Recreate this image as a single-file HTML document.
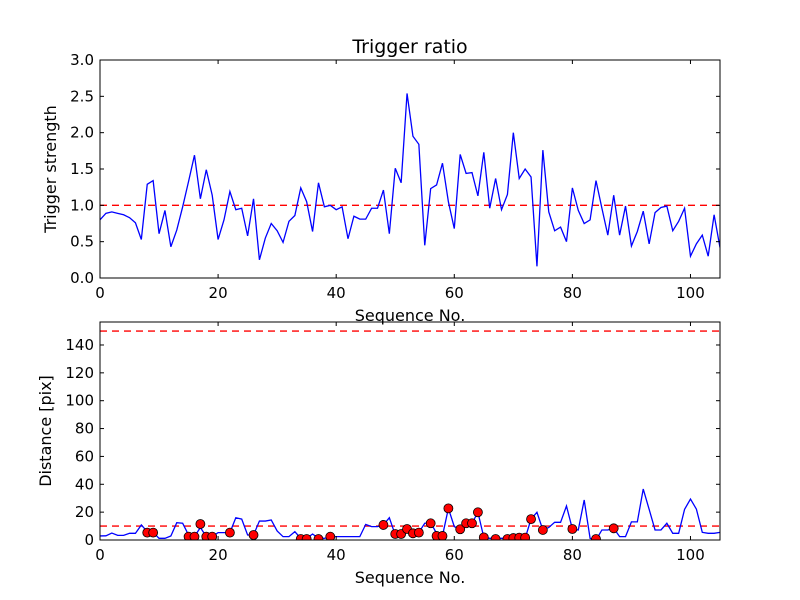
<!DOCTYPE html>
<html><head><meta charset="utf-8"><style>
body{margin:0;background:#fff;}
svg{display:block;font-family:"DejaVu Sans","Liberation Sans",sans-serif;}
</style></head><body>
<svg id="chart" width="800" height="600" viewBox="0 0 800 600" xmlns="http://www.w3.org/2000/svg">
<rect width="800" height="600" fill="#fff"/>
</svg>
<script>
const ratioValues=[0.80,0.89,0.91,0.89,0.87,0.83,0.76,0.53,1.29,1.34,0.61,0.93,0.43,0.66,0.98,1.33,1.69,1.09,1.49,1.14,0.53,0.80,1.19,0.94,0.96,0.58,1.09,0.25,0.55,0.75,0.65,0.49,0.78,0.86,1.24,1.05,0.64,1.31,0.98,1.00,0.94,0.98,0.54,0.85,0.81,0.81,0.96,0.96,1.21,0.61,1.51,1.31,2.54,1.95,1.84,0.45,1.23,1.28,1.58,1.05,0.68,1.70,1.44,1.45,1.13,1.73,0.96,1.37,0.94,1.15,2.00,1.37,1.50,1.39,0.16,1.76,0.91,0.65,0.70,0.50,1.24,0.93,0.75,0.80,1.34,0.96,0.59,1.14,0.59,0.99,0.44,0.64,0.92,0.47,0.90,0.97,0.99,0.65,0.78,0.96,0.30,0.47,0.59,0.30,0.87,0.42];
const distValues=[2.9,3,5,3.3,3.3,4.8,4.8,10.8,6,5.5,1.2,1.2,2.9,12.4,12,3.6,2.4,9,2.4,2.4,5.3,5.3,5.3,16,15,3.6,3.6,13.6,13.6,14.4,6.5,2.4,2.4,6,1.2,1.2,4.3,1.2,1.2,2.4,2.4,2.4,2.4,2.4,2.4,11.2,9.6,9.6,10.8,16,3.6,3.6,7.2,6,5.5,12,12.4,4.8,3,22.7,9.6,7.7,12,12,19.9,1.9,1.2,1.2,1.2,1.2,1.2,1.2,1.2,15,19.9,7.2,9,12.7,12.7,24.4,7.9,7.2,28.7,1.2,0,7.2,7.2,8.4,2.4,2.4,13,13,36.6,22,7.2,7.2,12,4.8,4.8,22,29.4,22.2,5.5,4.8,4.8,5.5];
const dotIndices=[8,9,15,16,17,18,19,22,26,34,35,37,39,48,50,51,52,53,54,56,57,58,59,61,62,63,64,65,67,69,70,71,72,73,75,80,84,87];
const dotValues=[5.3,5.3,2.4,2.4,11.5,2.4,2.4,5.3,3.6,0.7,0.7,0.7,2.4,10.8,4.3,4.3,7.9,4.8,5.3,12,2.9,2.9,22.7,7.7,12,12,19.9,1.9,0.7,0.7,1.4,1.7,1.7,15,7.2,7.9,0.7,8.4];
const xTicks=[0,20,40,60,80,100];
const yTicksTop=["0.0","0.5","1.0","1.5","2.0","2.5","3.0"];
const yTicksBottom=[0,20,40,60,80,100,120,140];
const ratioThreshold=1.0;
const distThresholds=[10,150];

const NS="http://www.w3.org/2000/svg";
const svg=document.getElementById('chart');
function mk(tag,attrs,parent){const e=document.createElementNS(NS,tag);for(const k in attrs)e.setAttribute(k,attrs[k]);(parent||svg).appendChild(e);return e;}
const L=100,R=720;
const xMax=105;
function sx(v){return L+v/xMax*(R-L);}

function axes(top,bot,yMax,yTicks,name,ylabel,title,ylx){
  const g=mk('g',{});
  
  
  const sy=v=>bot-v/yMax*(bot-top);
  return {g,sy,top,bot,yTicks,ylabel,title,yMax,ylx};
}
function frame(a){
  const {g,sy,top,bot}=a;
  const f=mk('rect',{x:L,y:top,width:R-L,height:bot-top,fill:'none',stroke:'#000','stroke-width':1},g);
  
  
  xTicks.forEach(t=>{
    const x=sx(t);
    mk('line',{x1:x,x2:x,y1:bot,y2:bot-4,stroke:'#000'},g);
    mk('line',{x1:x,x2:x,y1:top,y2:top+4,stroke:'#000'},g);
    const tx=mk('text',{x:x,y:bot+20,'text-anchor':'middle','font-size':15},g);
    tx.textContent=t;
    
    
  });
  a.yTicks.forEach(t=>{
    const y=sy(parseFloat(t));
    mk('line',{x1:L,x2:L+4,y1:y,y2:y,stroke:'#000'},g);
    mk('line',{x1:R,x2:R-4,y1:y,y2:y,stroke:'#000'},g);
    const tx=mk('text',{x:L-6,y:y+5,'text-anchor':'end','font-size':15},g);
    tx.textContent=t;
    
    
  });
  const xl=mk('text',{x:(L+R)/2,y:bot+43,'text-anchor':'middle','font-size':16},g);
  xl.textContent='Sequence No.';
  
  
  const cy=(top+bot)/2;
  const yl=mk('text',{x:0,y:0,'text-anchor':'middle','font-size':16,transform:`translate(${a.ylx},${cy}) rotate(-90)`},g);
  yl.textContent=a.ylabel;
  
  
  if(a.title){
    const tt=mk('text',{x:(L+R)/2,y:top-7,'text-anchor':'middle','font-size':19},g);
    tt.textContent=a.title;
    
    
  }
}
function clip(id,a){
  const d=mk('defs',{});const c=mk('clipPath',{id:id},d);
  mk('rect',{x:L,y:a.top,width:R-L,height:a.bot-a.top},c);
}

const A=axes(60,278,3,yTicksTop,'trigger-ratio-axes','Trigger strength','Trigger ratio',56);
clip('c1',A);
const ht=mk('line',{x1:L,x2:R,y1:A.sy(ratioThreshold),y2:A.sy(ratioThreshold),stroke:'#ff0000','stroke-width':1.3,'stroke-dasharray':'7,5'},A.g);


const p1=mk('polyline',{points:ratioValues.map((v,i)=>sx(i)+','+A.sy(v)).join(' '),fill:'none',stroke:'#00f','stroke-width':1.3,'clip-path':'url(#c1)'},A.g);


frame(A);

const B=axes(322,540,156.5,yTicksBottom.map(String),'distance-axes','Distance [pix]',null,51);
clip('c2',B);
distThresholds.forEach(t=>{
  const l=mk('line',{x1:L,x2:R,y1:B.sy(t),y2:B.sy(t),stroke:'#ff0000','stroke-width':1.3,'stroke-dasharray':'7,5'},B.g);
  
  
});
const p2=mk('polyline',{points:distValues.map((v,i)=>sx(i)+','+B.sy(v)).join(' '),fill:'none',stroke:'#00f','stroke-width':1.3,'clip-path':'url(#c2)'},B.g);


dotIndices.forEach((ix,k)=>{
  const c=mk('circle',{cx:sx(ix),cy:B.sy(dotValues[k]),r:4.5,fill:'#f00',stroke:'#000','stroke-width':0.8,'clip-path':'url(#c2)'},B.g);
  
  
});
frame(B);
</script>
</body></html>
